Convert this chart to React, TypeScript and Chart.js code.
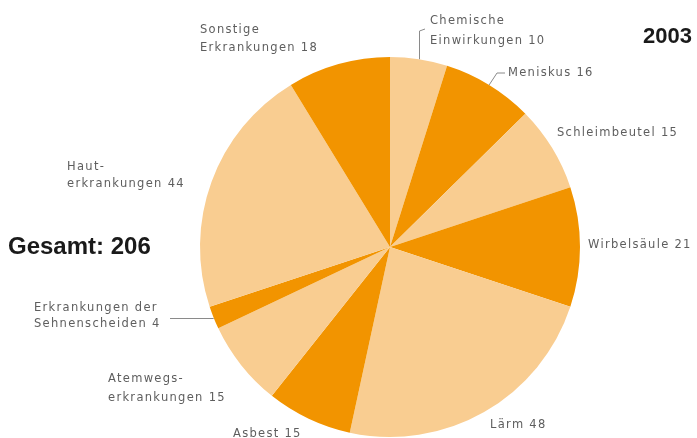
import React, { useEffect, useRef } from "react";
import { Chart, registerables } from "chart.js";

Chart.register(...registerables);

const categories = [
  "Chemische Einwirkungen",
  "Meniskus",
  "Schleimbeutel",
  "Wirbelsäule",
  "Lärm",
  "Asbest",
  "Atemwegserkrankungen",
  "Erkrankungen der Sehnenscheiden",
  "Hauterkrankungen",
  "Sonstige Erkrankungen",
];
const values = [10, 16, 15, 21, 48, 15, 15, 4, 44, 18];
const labelLines = [
  ["Chemische", "Einwirkungen 10"],
  ["Meniskus 16"],
  ["Schleimbeutel 15"],
  ["Wirbelsäule 21"],
  ["Lärm 48"],
  ["Asbest 15"],
  ["Atemwegs-", "erkrankungen 15"],
  ["Erkrankungen der", "Sehnenscheiden 4"],
  ["Haut-", "erkrankungen 44"],
  ["Sonstige", "Erkrankungen 18"],
];
const totalLabel = "Gesamt: 206";
const yearLabel = "2003";

const LIGHT = "#F9CD91";
const ORANGE = "#F29400";
const TEXT = "#5e5e5e";

// label layout: x (left), y (first line center), line gap
const labelPos = [
  [430, 21, 20],
  [508, 73, 0],
  [557, 133, 0],
  [588, 245, 0],
  [490, 425, 0],
  [233, 434, 0],
  [108, 379, 19],
  [34, 308, 16],
  [67, 167, 17],
  [200, 30, 18],
];

const labelPlugin = {
  id: "labels",
  afterDraw(chart: any) {
    const ctx = chart.ctx;
    const meta = chart.getDatasetMeta(0);
    ctx.save();
    ctx.font = "11.5px 'DejaVu Sans'";
    (ctx as any).letterSpacing = "1.3px";
    ctx.fillStyle = TEXT;
    ctx.textBaseline = "middle";
    ctx.textAlign = "left";
    labelLines.forEach((lines, i) => {
      const [x, y, gap] = labelPos[i];
      lines.forEach((ln, j) => ctx.fillText(ln, x, y + j * gap));
    });
    (ctx as any).letterSpacing = "0px";
    // leader lines
    ctx.strokeStyle = "#8a8a8a";
    ctx.lineWidth = 1;
    const arcs = meta.data;
    const edge = (i: number) => {
      const a = arcs[i];
      const ang = (a.startAngle + a.endAngle) / 2;
      return [a.x + Math.cos(ang) * a.outerRadius, a.y + Math.sin(ang) * a.outerRadius];
    };
    {
      const [x0, y0] = edge(0);
      ctx.beginPath();
      ctx.moveTo(Math.round(x0) + 0.5, y0);
      ctx.lineTo(Math.round(x0) + 0.5, 31);
      ctx.lineTo(425, 29);
      ctx.stroke();
    }
    {
      const [x0, y0] = edge(1);
      ctx.beginPath();
      ctx.moveTo(x0, y0);
      ctx.lineTo(497, 73);
      ctx.lineTo(505, 73);
      ctx.stroke();
    }
    {
      const [x0, y0] = edge(7);
      ctx.beginPath();
      ctx.moveTo(170, Math.round(y0) + 0.5);
      ctx.lineTo(x0, Math.round(y0) + 0.5);
      ctx.stroke();
    }
    ctx.fillStyle = "#1a1a1a";
    ctx.font = "bold 24px Arial, 'Liberation Sans'";
    ctx.fillText(totalLabel, 8, 247);
    ctx.font = "bold 22px Arial, 'Liberation Sans'";
    ctx.fillText(yearLabel, 643, 37);
    ctx.restore();
  },
};

export default function App() {
  const ref = useRef<HTMLCanvasElement>(null);
  useEffect(() => {
    const chart = new Chart(ref.current!, {
      type: "pie",
      data: {
        labels: categories,
        datasets: [
          {
            data: values,
            backgroundColor: values.map((_, i) => (i % 2 === 0 ? LIGHT : ORANGE)),
            borderWidth: 0,
          },
        ],
      },
      options: {
        responsive: false,
        animation: false,
        layout: { padding: { top: 57, bottom: 1, left: 200, right: 117 } },
        plugins: { legend: { display: false }, tooltip: { enabled: false } },
      },
      plugins: [labelPlugin],
    });
    return () => chart.destroy();
  }, []);
  return (
    <div style={{ position: "fixed", left: 0, top: 0, width: 697, height: 438, background: "#fff" }}>
      <canvas ref={ref} width={697} height={438} style={{ width: 697, height: 438 }} />
    </div>
  );
}
